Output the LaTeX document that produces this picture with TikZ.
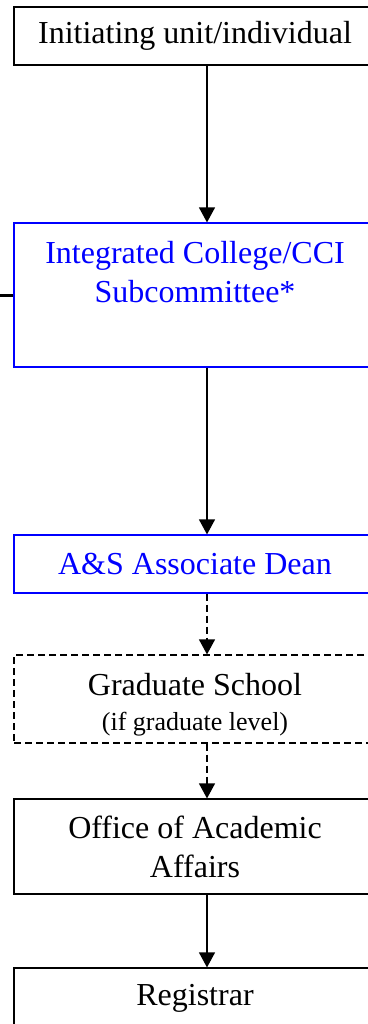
\documentclass[tikz,border=0pt]{standalone}
\usepackage{fontspec}
\setmainfont{Liberation Serif}
\usetikzlibrary{arrows.meta}
\definecolor{wordblue}{RGB}{0,0,255}
\begin{document}
\begin{tikzpicture}[x=0.5pt, y=-0.5pt,
  box/.style={draw, line width=0.6pt, minimum width=181pt, inner sep=0pt,
              align=center, font=\fontsize{16}{19.5}\selectfont},
  bluebox/.style={box, draw=wordblue, text=wordblue},
  optbox/.style={box, dash pattern=on 3.5pt off 2pt},
  flow/.style={-{Triangle[width=8pt,length=7.5pt]}, line width=0.6pt},
  optflow/.style={flow, dash pattern=on 3.5pt off 2pt}]
  \useasboundingbox (0,0) rectangle (368,1024);
  \coordinate (spine) at (207,0);
  \coordinate (feed) at (0,295);
  \node[box, minimum height=29pt] (init) at (195,36) {Initiating unit/individual};
  \node[bluebox, minimum height=72pt] (icc) at (195,295) {Integrated College/CCI\\Subcommittee*\\[4pt]\mbox{}};
  \node[bluebox, minimum height=29pt] (dean) at (195,564) {A\&S Associate Dean};
  \node[optbox, minimum height=44pt] (grad) at (195,699) {\rule{0pt}{17pt}Graduate School\\[-2pt]{\fontsize{13}{15}\selectfont (if graduate level)}};
  \node[box, minimum height=47.5pt] (oaa) at (195,846.5) {Office of Academic\\Affairs};
  \node[box, minimum height=30pt] (reg) at (195,998) {Registrar};
  \draw[line width=1.5pt] (feed) -- (icc.west);
  \draw[flow] (init.south -| spine) -- (icc.north -| spine);
  \draw[flow] (icc.south -| spine) -- (dean.north -| spine);
  \draw[optflow] (dean.south -| spine) -- (grad.north -| spine);
  \draw[optflow] (grad.south -| spine) -- (oaa.north -| spine);
  \draw[flow] (oaa.south -| spine) -- (reg.north -| spine);
\end{tikzpicture}
\end{document}
